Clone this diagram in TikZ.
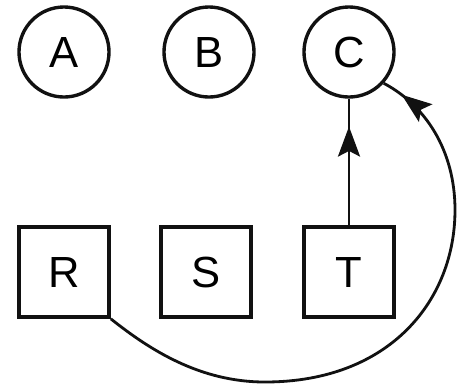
\documentclass[tikz,border=0pt]{standalone}
\usepackage{fontspec}
\setmainfont{Liberation Sans}
\usetikzlibrary{arrows.meta,calc,positioning,decorations.markings}
\definecolor{InkBlack}{HTML}{111111}

\begin{document}
\begin{tikzpicture}[x=0.025cm,y=-0.025cm,
    state/.style={draw=InkBlack,line width=2.4pt,circle,minimum size=2.25cm,
      inner sep=0pt,font=\fontsize{31}{34}\selectfont},
    block/.style={draw=InkBlack,line width=2.6pt,rectangle,minimum width=2.25cm,
      minimum height=2.25cm,inner sep=0pt,font=\fontsize{31}{34}\selectfont},
    midarrow/.style={postaction={decorate},decoration={markings,
      mark=at position #1 with {\arrow{Stealth[length=0.75cm,width=0.55cm,inset=0.14cm]}}}}]

        \useasboundingbox (0,0) rectangle (460,391);

        \node[state] (A) at (64,52) {A};
        \node[state] (B) at (209,52) {B};
        \node[state] (C) at (349,52) {C};

        \node[block] (R) at (64,272) {R};
        \node[block] (S) at (206,272) {S};
        \node[block] (T) at (349,272) {T};

        \draw[InkBlack,line width=2pt,midarrow=0.78] (T.north) -- (C.south);

        \draw[InkBlack,line width=2pt,midarrow=0.965]
          (R.south east) .. controls (150,350) and (200,382) .. (265,382)
          .. controls (390,382) and (455,300) .. (455,210)
          .. controls (455,150) and (425,105) .. (C.-42);

      \end{tikzpicture}
\end{document}
